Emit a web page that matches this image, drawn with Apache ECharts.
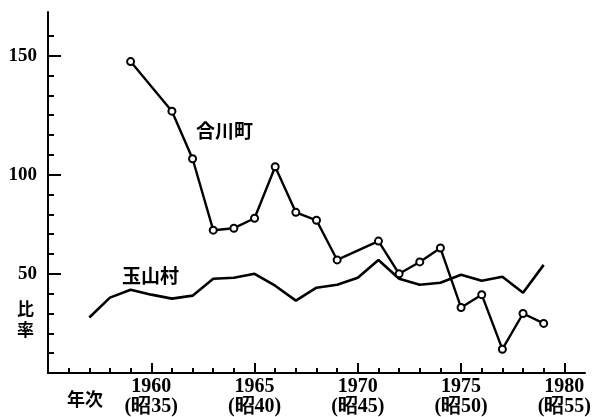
<!DOCTYPE html>
<html>
<head>
<meta charset="utf-8">
<script src="https://cdn.jsdelivr.net/npm/echarts@6/dist/echarts.min.js"></script>
<style>
  html, body { margin: 0; padding: 0; background: #fff; }
  #chart { width: 594px; height: 417px; }
</style>
</head>
<body>
<div id="chart"></div>
<script>
// 合川町 (○ 印つき)
const aikawaYears = [1959, 1961, 1962, 1963, 1964, 1965, 1966, 1967, 1968, 1969, 1971, 1972, 1973, 1974, 1975, 1976, 1977, 1978, 1979]
const aikawaValues = [157, 132, 108, 72, 73, 78, 104, 81, 77, 57, 66.5, 50, 56, 63, 33, 39.5, 12, 30, 25]
// 玉山村
const tamayamaYears = [1957, 1958, 1959, 1960, 1961, 1962, 1963, 1964, 1965, 1966, 1967, 1968, 1969, 1970, 1971, 1972, 1973, 1974, 1975, 1976, 1977, 1978, 1979]
const tamayamaValues = [28, 38, 42, 39.5, 37.5, 39, 47.5, 48, 50, 44, 36.5, 43, 44.5, 48, 57, 47.5, 44.5, 45.5, 49.5, 46.5, 48.5, 40.5, 54.5]
// 目盛り
const yearTicks = [1956, 1957, 1958, 1959, 1960, 1961, 1962, 1963, 1964, 1965, 1966, 1967, 1968, 1969, 1970, 1971, 1972, 1973, 1974, 1975, 1976, 1977, 1978, 1979, 1980]
const yearLabels = [1960, 1965, 1970, 1975, 1980]
const rateTicks = [10, 20, 30, 40, 50, 60, 70, 80, 90, 100, 110, 120, 130, 140, 150, 160, 170]
// 原図では「150」が一段上の目盛りに付いている
const rateLabelTicks = [50, 100, 160]
const rateLabelText = { 50: '50', 100: '100', 160: '150' }

const chart = echarts.init(document.getElementById('chart'))
const numFont = 'Liberation Serif'
const jpFont = 'Noto Sans CJK JP'

const toPairs = (xs, ys) => xs.map((x, i) => [x, ys[i]])

const option = {
  animation: false,
  backgroundColor: '#fff',
  grid: { left: 48, right: 7, top: 12, bottom: 38 },
  xAxis: [
    {
      type: 'value',
      min: 1955,
      max: 1981,
      position: 'bottom',
      splitLine: { show: false },
      axisLine: { lineStyle: { color: '#000', width: 2 } },
      axisTick: { show: true, inside: true, length: 5, customValues: yearTicks, lineStyle: { color: '#000', width: 2 } },
      axisLabel: {
        customValues: yearLabels,
        margin: 4,
        color: '#000',
        fontFamily: numFont,
        fontWeight: 'bold',
        fontSize: 20,
        lineHeight: 20,
        formatter: v => v + '\n(昭' + (v - 1925) + ')'
      }
    },
    {
      // 5年ごとの長い目盛り
      type: 'value',
      min: 1955,
      max: 1981,
      position: 'bottom',
      splitLine: { show: false },
      axisLine: { show: false },
      axisTick: { show: true, inside: true, length: 10, customValues: yearLabels, lineStyle: { color: '#000', width: 2 } },
      axisLabel: { show: false }
    }
  ],
  yAxis: [
    {
      type: 'value',
      min: 0,
      max: 182,
      position: 'left',
      splitLine: { show: false },
      axisLine: { show: true, lineStyle: { color: '#000', width: 2 } },
      axisTick: { show: true, inside: true, length: 6, customValues: rateTicks, lineStyle: { color: '#000', width: 2 } },
      axisLabel: {
        customValues: rateLabelTicks,
        margin: 11,
        color: '#000',
        fontFamily: numFont,
        fontWeight: 'bold',
        fontSize: 19,
        padding: [6, 0, 0, 0],
        formatter: v => rateLabelText[v]
      }
    },
    {
      type: 'value',
      min: 0,
      max: 182,
      position: 'left',
      splitLine: { show: false },
      axisLine: { show: false },
      axisTick: { show: true, inside: true, length: 13, customValues: rateLabelTicks, lineStyle: { color: '#000', width: 2 } },
      axisLabel: { show: false }
    }
  ],
  series: [
    {
      name: '合川町',
      type: 'line',
      data: toPairs(aikawaYears, aikawaValues),
      symbol: 'circle',
      symbolSize: 7,
      lineStyle: { color: '#000', width: 2.4 },
      itemStyle: { color: '#fff', borderColor: '#000', borderWidth: 2 }
    },
    {
      name: '玉山村',
      type: 'line',
      data: toPairs(tamayamaYears, tamayamaValues),
      showSymbol: false,
      lineStyle: { color: '#000', width: 2.6 }
    }
  ],
  graphic: [
    { type: 'text', left: 196, top: 121, style: { text: '合川町', font: 'bold 19px "' + jpFont + '"', fill: '#000' } },
    { type: 'text', left: 122, top: 266, style: { text: '玉山村', font: 'bold 19px "' + jpFont + '"', fill: '#000' } },
    { type: 'text', left: 17, top: 298, style: { text: '比\n率', font: 'bold 17px "' + jpFont + '"', lineHeight: 21, fill: '#000' } },
    { type: 'text', left: 67, top: 390, style: { text: '年次', font: 'bold 18px "' + jpFont + '"', fill: '#000' } }
  ]
}

chart.setOption(option)
</script>
</body>
</html>
